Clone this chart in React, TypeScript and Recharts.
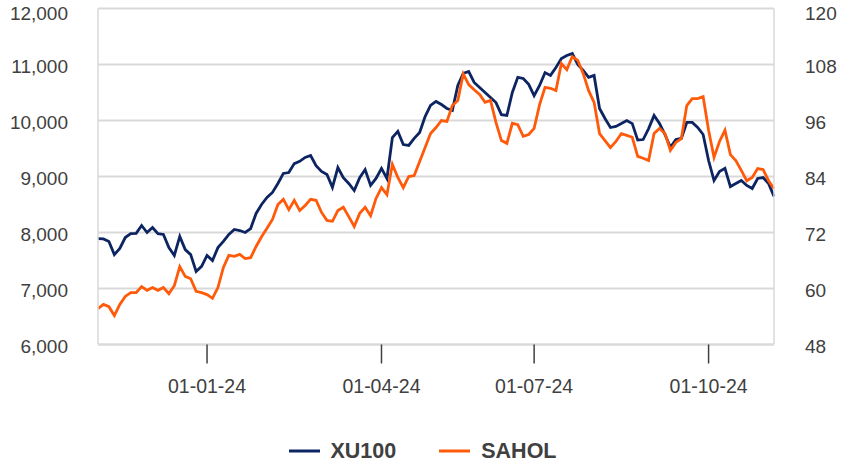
import React from "react";
import {
  LineChart,
  Line,
  XAxis,
  YAxis,
  CartesianGrid,
  Legend,
} from "recharts";

const dates = [
  "06-11-23", "08-11-23", "10-11-23", "14-11-23", "16-11-23", "20-11-23", "22-11-23", "24-11-23", "28-11-23", "30-11-23",
  "04-12-23", "06-12-23", "08-12-23", "12-12-23", "14-12-23", "18-12-23", "20-12-23", "22-12-23", "26-12-23", "28-12-23",
  "01-01-24", "03-01-24", "05-01-24", "09-01-24", "11-01-24", "15-01-24", "17-01-24", "19-01-24", "23-01-24", "25-01-24",
  "29-01-24", "31-01-24", "02-02-24", "06-02-24", "08-02-24", "12-02-24", "14-02-24", "16-02-24", "20-02-24", "22-02-24",
  "26-02-24", "28-02-24", "01-03-24", "05-03-24", "07-03-24", "11-03-24", "13-03-24", "15-03-24", "19-03-24", "21-03-24",
  "25-03-24", "27-03-24", "01-04-24", "03-04-24", "05-04-24", "09-04-24", "15-04-24", "17-04-24", "19-04-24", "23-04-24",
  "25-04-24", "29-04-24", "02-05-24", "06-05-24", "08-05-24", "10-05-24", "14-05-24", "16-05-24", "20-05-24", "22-05-24",
  "24-05-24", "28-05-24", "30-05-24", "03-06-24", "05-06-24", "07-06-24", "11-06-24", "13-06-24", "20-06-24", "25-06-24",
  "01-07-24", "03-07-24", "05-07-24", "09-07-24", "11-07-24", "16-07-24", "18-07-24", "22-07-24", "24-07-24", "26-07-24",
  "30-07-24", "01-08-24", "05-08-24", "07-08-24", "09-08-24", "13-08-24", "15-08-24", "19-08-24", "21-08-24", "23-08-24",
  "27-08-24", "29-08-24", "02-09-24", "04-09-24", "06-09-24", "10-09-24", "12-09-24", "16-09-24", "18-09-24", "20-09-24",
  "24-09-24", "26-09-24", "01-10-24", "03-10-24", "07-10-24", "09-10-24", "11-10-24", "15-10-24", "17-10-24", "21-10-24",
  "23-10-24", "25-10-24", "30-10-24", "01-11-24", "05-11-24",
];

const xu100 = [
  7890, 7885, 7840, 7605, 7715, 7910, 7980, 7985, 8125, 8000,
  8090, 7980, 7965, 7730, 7590, 7930, 7695, 7605, 7305, 7395,
  7590, 7500, 7730, 7840, 7965, 8055, 8035, 8000, 8070, 8340,
  8500, 8625, 8715, 8875, 9055, 9070, 9230, 9270, 9340, 9375,
  9195, 9090, 9035, 8805, 9160, 8980, 8875, 8750, 8980, 9125,
  8840, 8965, 9145, 8965, 9695, 9805, 9570, 9555, 9680, 9785,
  10070, 10270, 10340, 10285, 10215, 10180, 10625, 10840, 10875, 10680,
  10590, 10500, 10410, 10320, 10105, 10090, 10500, 10770, 10750, 10645,
  10445, 10625, 10855, 10805, 10945, 11105, 11160, 11195, 11000, 10895,
  10770, 10805, 10215, 10035, 9875, 9895, 9945, 10000, 9945, 9650,
  9660, 9855, 10090, 9945, 9750, 9520, 9660, 9680, 9965, 9965,
  9875, 9750, 9285, 8930, 9090, 9145, 8820, 8875, 8930, 8840,
  8785, 8965, 8980, 8875, 8645,
];

const sahol = [
  55.7, 56.6, 56.1, 54.2, 56.6, 58.3, 59.1, 59.1, 60.4, 59.6,
  60.2, 59.6, 60.2, 58.9, 60.6, 64.7, 62.6, 62.1, 59.4, 59.1,
  58.7, 57.9, 60.2, 64.5, 67.1, 66.9, 67.3, 66.4, 66.6, 69.0,
  71.1, 72.9, 74.8, 78.0, 79.1, 76.9, 78.9, 76.7, 77.8, 79.1,
  78.9, 76.3, 74.6, 74.4, 76.7, 77.4, 75.4, 73.3, 76.1, 77.4,
  75.6, 79.3, 81.6, 80.1, 86.6, 83.8, 81.6, 84.0, 84.2, 87.2,
  90.2, 93.2, 94.5, 96.0, 95.8, 99.2, 100.3, 106.0, 103.7, 102.6,
  101.6, 99.9, 100.3, 95.6, 91.7, 91.1, 95.4, 95.1, 92.6, 93.0,
  94.3, 99.4, 103.1, 102.9, 102.4, 108.2, 106.9, 109.7, 108.9, 106.1,
  102.4, 99.9, 93.2, 91.7, 90.2, 91.5, 93.2, 92.8, 92.4, 88.3,
  87.9, 87.4, 93.2, 94.3, 93.2, 89.6, 91.3, 92.1, 99.2, 100.7,
  100.7, 101.1, 93.9, 88.1, 91.5, 93.9, 88.7, 87.4, 85.3, 83.1,
  83.8, 85.7, 85.5, 83.1, 81.4,
];

const seriesOrder = ["XU100", "SAHOL"];
const xTicks = ["01-01-24", "01-04-24", "01-07-24", "01-10-24"];
const leftTicks = [6000, 7000, 8000, 9000, 10000, 11000, 12000];
const rightTicks = [48, 60, 72, 84, 96, 108, 120];

const FONT = '"Liberation Sans", Arial, sans-serif';
const TEXT = "#404040";
const GRID = "#d9d9d9";

const data = dates.map((d, i) => ({ date: d, XU100: xu100[i], SAHOL: sahol[i] }));

const renderLegend = (props: any) => {
  // keep the legend in series order, not alphabetical
  const items = [...(props.payload || [])].sort(
    (a: any, b: any) => seriesOrder.indexOf(a.value) - seriesOrder.indexOf(b.value)
  );
  return (
    <div
      style={{
        display: "flex",
        justifyContent: "center",
        alignItems: "center",
        height: 30,
        transform: "translateX(-6px)",
        fontFamily: FONT,
      }}
    >
      {items.map((entry: any, index: number) => (
        <div
          key={`item-${index}`}
          style={{
            display: "flex",
            alignItems: "center",
            marginRight: index === items.length - 1 ? 0 : 43,
          }}
        >
          <svg width={31} height={4}>
            <line x1={0} y1={2} x2={31} y2={2} stroke={entry.color} strokeWidth={3} />
          </svg>
          <span style={{ marginLeft: 11, fontWeight: "bold", fontSize: 21.5, color: TEXT }}>
            {entry.value}
          </span>
        </div>
      ))}
    </div>
  );
};

export default function App() {
  return (
    <div style={{ position: "absolute", left: 0, top: 0, width: 857, height: 468, background: "#fff" }}>
      <LineChart
        width={857}
        height={468}
        data={data}
        margin={{ top: 8.5, right: 0, left: 0, bottom: 0 }}
        style={{ fontFamily: FONT }}
      >
        <CartesianGrid yAxisId="left" vertical={false} stroke={GRID} strokeWidth={2} />
        <XAxis
          dataKey="date"
          ticks={xTicks}
          interval={0}
          height={93.5}
          tickSize={19}
          tickMargin={15.5}
          axisLine={{ stroke: GRID, strokeWidth: 2 }}
          tickLine={{ stroke: TEXT, strokeWidth: 1.5 }}
          tick={{ fill: TEXT, fontSize: 19.5, fontFamily: FONT }}
        />
        <YAxis
          yAxisId="left"
          width={98}
          domain={[6000, 12000]}
          ticks={leftTicks}
          tickFormatter={(v: number) => v.toLocaleString("en-US")}
          tickLine={false}
          tickSize={0}
          tickMargin={30}
          axisLine={{ stroke: GRID, strokeWidth: 1.5 }}
          tick={{ fill: TEXT, fontSize: 19, fontFamily: FONT, dy: 2 }}
        />
        <YAxis
          yAxisId="right"
          orientation="right"
          width={83}
          domain={[48, 120]}
          ticks={rightTicks}
          tickLine={false}
          tickSize={0}
          tickMargin={31}
          axisLine={{ stroke: GRID, strokeWidth: 1.5 }}
          tick={{ fill: TEXT, fontSize: 19, fontFamily: FONT, dy: 2 }}
        />
        <Legend verticalAlign="bottom" content={renderLegend} wrapperStyle={{ bottom: 2 }} />
        <Line
          yAxisId="left"
          type="linear"
          dataKey="XU100"
          stroke="#0c2461"
          strokeWidth={2.8}
          dot={false}
          isAnimationActive={false}
        />
        <Line
          yAxisId="right"
          type="linear"
          dataKey="SAHOL"
          stroke="#ff5a0a"
          strokeWidth={2.8}
          dot={false}
          isAnimationActive={false}
        />
      </LineChart>
    </div>
  );
}
